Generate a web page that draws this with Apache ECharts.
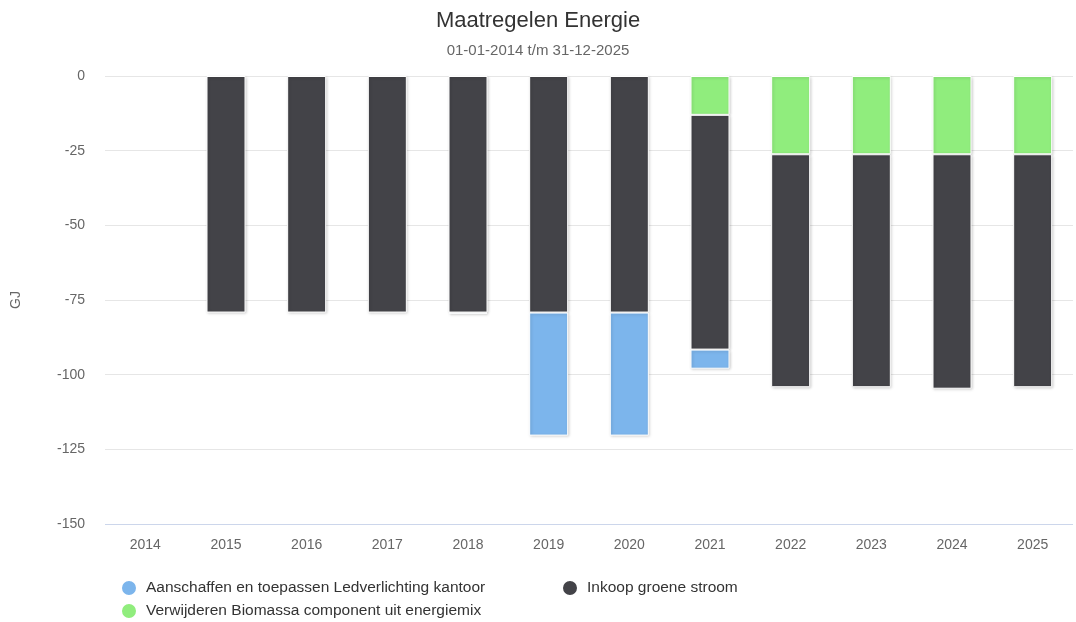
<!DOCTYPE html>
<html>
<head>
<meta charset="utf-8">
<script src="https://cdn.jsdelivr.net/npm/echarts@6/dist/echarts.min.js"></script>
<style>
  html, body { margin: 0; padding: 0; background: #fff; }
  #chart { width: 1076px; height: 622px; }
</style>
</head>
<body>
<div id="chart"></div>
<script>
const years = ['2014', '2015', '2016', '2017', '2018', '2019', '2020', '2021', '2022', '2023', '2024', '2025'];
// GJ, negative = saving
const biomassa = [null, null, null, null, null, null, null, -13.0, -26.2, -26.2, -26.2, -26.2];
const inkoop = [null, -79.2, -79.2, -79.2, -79.2, -79.2, -79.2, -78.6, -78.0, -78.0, -78.5, -78.0];
const led = [null, null, null, null, -0.4, -41.2, -41.2, -6.4, null, null, null, null];
const yTicks = [0, -25, -50, -75, -100, -125, -150];

const names = {
  led: 'Aanschaffen en toepassen Ledverlichting kantoor',
  inkoop: 'Inkoop groene stroom',
  biomassa: 'Verwijderen Biomassa component uit energiemix'
};

const font = 'Liberation Sans, Arial, sans-serif';
const chart = echarts.init(document.getElementById('chart'));

const barStyle = (color) => ({
  color: color,
  borderColor: '#fff',
  borderWidth: 1,
  shadowColor: 'rgba(0,0,0,0.2)',
  shadowBlur: 3,
  shadowOffsetX: 1,
  shadowOffsetY: 1
});

const legendText = { color: '#333', fontSize: 15.5, fontFamily: font, padding: [0, 0, 0, 4] };

const option = {
  animation: false,
  textStyle: { fontFamily: font },
  title: {
    text: 'Maatregelen Energie',
    subtext: '01-01-2014 t/m 31-12-2025',
    left: 'center',
    top: 5,
    itemGap: 11,
    textStyle: { color: '#333', fontSize: 22, fontWeight: 'normal', fontFamily: font },
    subtextStyle: { color: '#666', fontSize: 15, fontFamily: font }
  },
  grid: { left: 105, right: 3, top: 76, bottom: 98, containLabel: false },
  legend: [
    {
      orient: 'vertical',
      left: 120,
      top: 579,
      padding: 0,
      itemGap: 5,
      icon: 'circle',
      itemWidth: 16,
      itemHeight: 16,
      textStyle: legendText,
      data: [names.led, names.biomassa]
    },
    {
      orient: 'vertical',
      left: 561,
      top: 579,
      padding: 0,
      icon: 'circle',
      itemWidth: 16,
      itemHeight: 16,
      textStyle: legendText,
      data: [names.inkoop]
    }
  ],
  xAxis: {
    type: 'category',
    data: years,
    axisLine: { show: false },
    axisTick: { show: false },
    axisLabel: { color: '#666', fontSize: 14, margin: 14 }
  },
  yAxis: {
    type: 'value',
    min: yTicks[yTicks.length - 1],
    max: yTicks[0],
    interval: 25,
    name: 'GJ',
    nameLocation: 'middle',
    nameRotate: 90,
    nameGap: 82,
    nameTextStyle: { color: '#666', fontSize: 14 },
    axisLabel: { color: '#666', fontSize: 14, margin: 20 },
    splitLine: {
      lineStyle: { color: ['#ccd6eb', '#e6e6e6', '#e6e6e6', '#e6e6e6', '#e6e6e6', '#e6e6e6', '#e6e6e6'], width: 1 }
    }
  },
  series: [
    {
      name: names.biomassa,
      type: 'bar',
      stack: 'total',
      barWidth: 39,
      data: biomassa,
      itemStyle: barStyle('#90ed7d')
    },
    {
      name: names.inkoop,
      type: 'bar',
      stack: 'total',
      barWidth: 39,
      data: inkoop,
      itemStyle: barStyle('#434348')
    },
    {
      name: names.led,
      type: 'bar',
      stack: 'total',
      barWidth: 39,
      data: led,
      itemStyle: barStyle('#7cb5ec')
    }
  ]
};

chart.setOption(option);
window.addEventListener('resize', function () {
  chart.resize();
});
</script>
</body>
</html>
